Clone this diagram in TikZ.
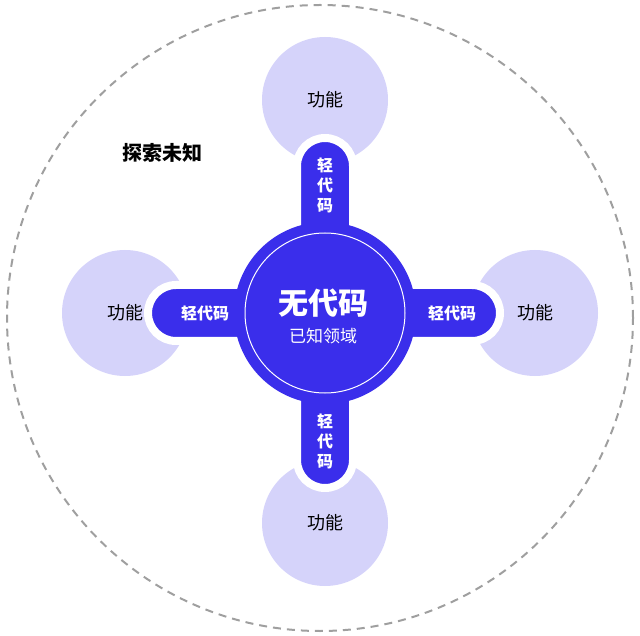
\documentclass[tikz,border=0pt]{standalone}
\usepackage{fontspec}
\setmainfont{Noto Sans CJK SC}
\usepackage{tikz}
\usetikzlibrary{positioning}
\definecolor{lcblue}{HTML}{3A2EEB}
\definecolor{lcpurple}{HTML}{D5D3FA}
\tikzset{%
  feature/.style = {circle, fill=lcpurple, minimum size=126pt, inner sep=0pt, font=\fontsize{18}{18}\selectfont},
  armv/.style = {rectangle, fill=lcblue, draw=white, line width=8pt, rounded corners=28pt, minimum width=56pt, minimum height=175pt},
  armh/.style = {rectangle, fill=lcblue, draw=white, line width=8pt, rounded corners=28pt, minimum height=56pt, minimum width=175pt},
  armtext/.style = {text=white, font=\bfseries\fontsize{16}{20}\selectfont, align=center}
}
\begin{document}
\begin{tikzpicture}[x=1pt, y=-1pt]
  \useasboundingbox (0,0) rectangle (640,636);

  % outer dashed boundary
  \node (explore-area) [circle, draw=gray!75, dash pattern=on 8pt off 6pt, line width=2pt, minimum size=626pt] at (320,318) {};
  \node (explore) at (162,153) {\bfseries\fontsize{20}{20}\selectfont 探索未知};

  % feature circles
  \node (feat-top) [feature] at (325,100) {功能};
  \node (feat-left) [feature] at (125,313) {功能};
  \node (feat-right) [feature] at (535,313) {功能};
  \node (feat-bottom) [feature] at (325,523) {功能};

  % low-code arms
  \node (arm-top) [armv] at (325,225.5) {};
  \node (arm-bottom) [armv] at (325,400.5) {};
  \node (arm-left) [armh] at (235.5,313) {};
  \node (arm-right) [armh] at (412.5,313) {};

  % no-code core
  \node (core) [circle, fill=lcblue, minimum size=182pt] at (325,313) {};
  \node (core-ring) [circle, draw=white, line width=1pt, minimum size=160pt] at (core) {};
  \node (core-title) [text=white, font=\bfseries\fontsize{30}{30}\selectfont] at (323,303) {无代码};
  \node (core-sub) [text=white, font=\fontsize{17}{17}\selectfont, below=4pt of core-title] {已知领域};

  \node (lc-top) [armtext] at (325,185) {轻\\代\\码};
  \node (lc-bottom) [armtext] at (325,441) {轻\\代\\码};
  \node (lc-left) [armtext] at (205,313) {轻代码};
  \node (lc-right) [armtext] at (452,313) {轻代码};
\end{tikzpicture}
\end{document}
